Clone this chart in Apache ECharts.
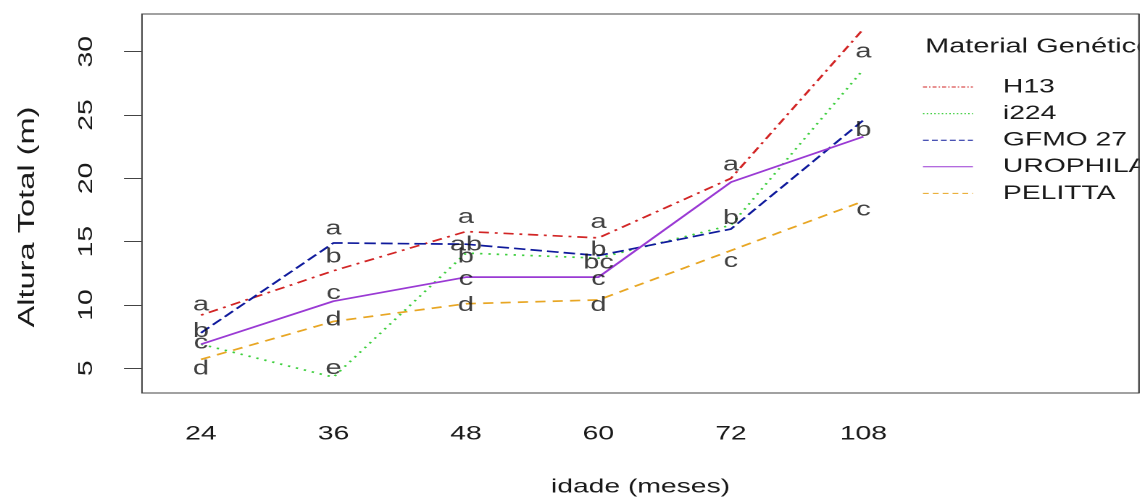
<!DOCTYPE html>
<html><head><meta charset="utf-8">
<script src="https://cdn.jsdelivr.net/npm/echarts@6/dist/echarts.min.js"></script>
<style>
html,body{margin:0;padding:0;background:#fff;overflow:hidden}
#wrap{width:1145px;height:498px;overflow:hidden;position:relative;background:#fff}
#chart{position:absolute;left:0;top:0;width:790px;height:498px;transform-origin:0 0;}
</style></head><body><div id="wrap"><div id="chart"></div></div>
<script>
// ---- data ----
const categories = ['24', '36', '48', '60', '72', '108'];
const seriesNames = ['H13', 'i224', 'GFMO 27', 'UROPHILA', 'PELITTA'];
const h13      = [9.2, 12.7, 15.8, 15.3, 20.0, 31.8];
const i224     = [6.9, 4.3, 14.1, 13.7, 16.3, 28.6];
const gfmo27   = [7.8, 14.9, 14.8, 13.9, 16.0, 24.6];
const urophila = [6.9, 10.3, 12.2, 12.2, 19.7, 23.3];
const pelitta  = [5.7, 8.7, 10.1, 10.4, 14.3, 18.2];
const yTicks = [5, 10, 15, 20, 25, 30];
const letterTexts   = [['a','b','c','d'], ['a','b','c','d','e'], ['a','ab','b','c','d'], ['a','b','bc','c','d'], ['a','b','c'], ['a','b','c']];
const letterHeights = [[10.0, 7.9, 7.0, 4.95], [16.0, 13.8, 10.9, 8.8, 5.0], [16.9, 14.75, 13.8, 12.0, 9.95], [16.5, 14.35, 13.3, 12.0, 9.95], [21.05, 16.85, 13.45], [30.0, 23.8, 17.5]];
const xTitle = 'idade (meses)';
const yTitle = 'Altura Total (m)';
const legendTitle = 'Material Genético';

// ---- layout ----
const W = 1145, H = 498;
const IW = 790;               // internal width
const S = W / IW;             // horizontal stretch of the whole picture
const FONT = '"Liberation Sans", Arial, sans-serif';
document.getElementById('chart').style.transform = 'scaleX(' + S + ')';

const gridL = 142 / S, gridR = 6 / S, gridT = 14, gridB = 105;

const seriesValues = [h13, i224, gfmo27, urophila, pelitta];
const colors = ['#D22525', '#3DCF3D', '#0F1A9C', '#9A3AD4', '#E8A623'];
const dashes = [[2, 4, 7, 4], [1.6, 4.2], [8, 3.5], 'solid', [7, 5]];
const legendDashes = [[2.8, 1.4, 1, 1.4], [1, 1.6], [4, 2.2], 'solid', [4, 2.8]];

const lineSeries = seriesNames.map((name, k) => ({
  name: name,
  type: 'line',
  data: seriesValues[k].map((v, i) => [i + 1, v]),
  symbol: 'none',
  lineStyle: { color: colors[k], width: 1.7, type: dashes[k] },
  itemStyle: { color: colors[k] },
  z: 3 + k
}));

const letterData = [];
letterTexts.forEach((arr, i) => arr.forEach((t, j) => letterData.push([i + 1, letterHeights[i][j], t])));

const chart = echarts.init(document.getElementById('chart'), null, { devicePixelRatio: 2, renderer: 'canvas' });
const option = {
  animation: false,
  backgroundColor: '#fff',
  textStyle: { fontFamily: FONT },
  title: {
    text: legendTitle, left: 925 / S, top: 37, padding: 0,
    textStyle: { fontSize: 20, fontWeight: 'normal', color: '#1a1a1a', fontFamily: FONT }
  },
  legend: {
    data: seriesNames.map((n, k) => ({ name: n, lineStyle: { type: legendDashes[k], width: k === 1 ? 1.3 : 1, color: colors[k] } })),
    orient: 'vertical', left: 922 / S, top: 77,
    itemWidth: 50 / S, itemHeight: 20, itemGap: 6.6, selectedMode: false, padding: 0,
    lineStyle: { width: 1 },
    itemStyle: { opacity: 0 },
    textStyle: { fontSize: 19.5, color: '#1a1a1a', fontFamily: FONT, lineHeight: 20, padding: [0, 0, 0, 30 / S - 5] }
  },
  grid: { left: gridL, right: gridR, top: gridT, bottom: gridB, containLabel: false, outerBoundsMode: 'none', show: true, borderColor: '#444', borderWidth: 1, backgroundColor: 'transparent' },
  xAxis: {
    type: 'value', min: 0.555, max: 8.08,
    axisLine: { show: false }, axisTick: { show: false }, splitLine: { show: false },
    axisLabel: {
      customValues: categories.map((c, i) => i + 1),
      formatter: v => categories[Math.round(v) - 1] || '',
      fontSize: 19.5, color: '#1a1a1a', margin: 31, fontFamily: FONT
    },
    name: xTitle, nameLocation: 'middle', nameGap: 84,
    nameTextStyle: { fontSize: 19.5, color: '#1a1a1a', fontFamily: FONT }
  },
  yAxis: {
    type: 'value', min: 3.05, max: 32.98,
    axisLine: { show: false }, splitLine: { show: false },
    axisTick: { show: true, length: 18 / S, customValues: yTicks, lineStyle: { color: '#444', width: 1 } },
    axisLabel: { show: false }
  },
  series: lineSeries.concat([{
    name: 'letras', type: 'scatter', data: letterData, symbolSize: 1,
    itemStyle: { color: 'rgba(0,0,0,0)' }, silent: true, z: 20,
    label: { show: true, position: 'inside', formatter: p => p.data[2], fontSize: 20, color: '#111', fontFamily: FONT }
  }])
};
chart.setOption(option);

// y tick labels and titles drawn as text with elongated glyphs (like the reference)
const gfx = [];
yTicks.forEach(v => {
  const py = chart.convertToPixel({ yAxisIndex: 0 }, v);
  gfx.push({
    type: 'text', x: 87 / S, y: py, rotation: Math.PI / 2, scaleX: S, scaleY: 1 / S, z: 50,
    style: { text: String(v), fontSize: 19.5, fontFamily: FONT, fill: '#1a1a1a', align: 'center', verticalAlign: 'middle', textAlign: 'center', textVerticalAlign: 'middle' }
  });
});
gfx.push({
  type: 'text', x: 28 / S, y: 217, rotation: Math.PI / 2, scaleX: S, scaleY: 1 / S, z: 50,
  style: { text: yTitle, fontSize: 22.5, fontFamily: FONT, fill: '#1a1a1a', align: 'center', verticalAlign: 'middle', textAlign: 'center', textVerticalAlign: 'middle' }
});
const rightX = IW - gridR;
gfx.push({ type: 'rect', z: 100, shape: { x: rightX + 0.6, y: 0, width: 40, height: H }, style: { fill: '#fff' } });
gfx.push({ type: 'line', z: 101, shape: { x1: rightX, y1: gridT, x2: rightX, y2: H - gridB }, style: { stroke: '#444', lineWidth: 1 } });
chart.setOption({ graphic: gfx });
</script>
</body></html>
